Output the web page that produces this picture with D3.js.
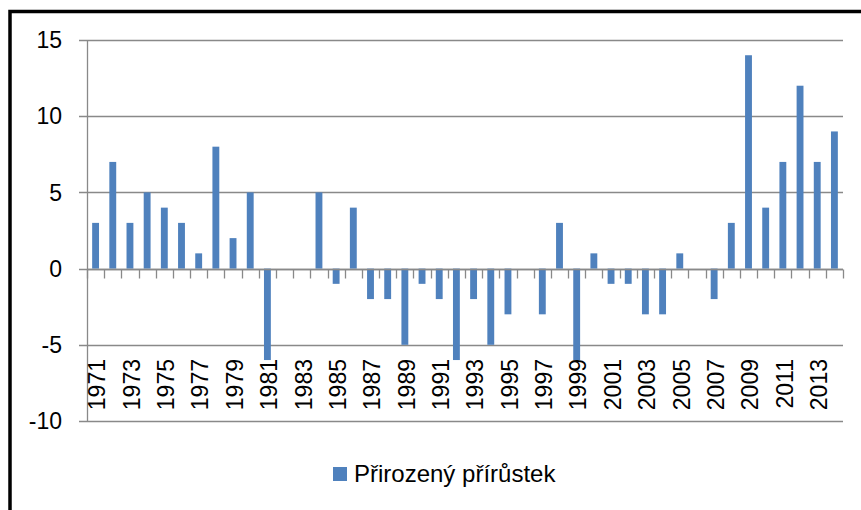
<!DOCTYPE html>
<html>
<head>
<meta charset="utf-8">
<script src="https://cdn.jsdelivr.net/npm/d3@7"></script>
<style>
    body { margin: 0; background: #fff; }
    svg { display: block; font-family: "Liberation Sans", Arial, sans-serif; }
</style>
</head>
<body>
<div id="chart"></div>
<script>
// Data
const years = d3.range(1971, 2015).map(String);
const values = [3, 7, 3, 5, 4, 3, 1, 8, 2, 5, -6, 0, 0, 5, -1, 4, -2, -2, -5, -1,
                -2, -6, -2, -5, -3, 0, -3, 3, -6, 1, -1, -1, -3, -3, 1, 0, -2, 3, 14, 4,
                7, 12, 7, 9];
const yTicks = [-10, -5, 0, 5, 10, 15];
const seriesName = "Přirozený přírůstek";

// Configuration
const config = {
    width: 861,
    height: 510,
    plot: { left: 87, right: 843, top: 40, bottom: 421 },
    barColor: "#4F81BD",
    gridColor: "#898989",
    fontSize: 23
};

const svg = d3.select("#chart")
    .append("svg")
    .attr("width", config.width)
    .attr("height", config.height);

// Outer frame (only left and top edges visible)
svg.append("rect")
    .attr("x", 10)
    .attr("y", 11.5)
    .attr("width", 1000)
    .attr("height", 1000)
    .attr("fill", "none")
    .attr("stroke", "#000")
    .attr("stroke-width", 3.5);

const x = d3.scaleBand()
    .domain(years)
    .range([config.plot.left, config.plot.right])
    .paddingInner(0.6)
    .paddingOuter(0.3);

const y = d3.scaleLinear()
    .domain([-10, 15])
    .range([config.plot.bottom, config.plot.top]);

// Gridlines + y ticks
svg.append("g")
    .selectAll("line")
    .data(yTicks)
    .enter()
    .append("line")
    .attr("x1", config.plot.left - 8)
    .attr("x2", config.plot.right)
    .attr("y1", d => Math.round(y(d)) + 0.5)
    .attr("y2", d => Math.round(y(d)) + 0.5)
    .attr("stroke", config.gridColor)
    .attr("stroke-width", 1.3);

// Y labels
svg.append("g")
    .selectAll("text")
    .data(yTicks)
    .enter()
    .append("text")
    .attr("x", 62)
    .attr("y", d => y(d))
    .attr("dy", "0.36em")
    .attr("text-anchor", "end")
    .style("font-size", config.fontSize + "px")
    .text(d => d);

// Bars
svg.append("g")
    .selectAll("rect")
    .data(values.map((v, i) => ({ year: years[i], value: v })))
    .enter()
    .append("rect")
    .attr("x", d => x(d.year))
    .attr("width", x.bandwidth())
    .attr("y", d => y(Math.max(0, d.value)))
    .attr("height", d => Math.abs(y(d.value) - y(0)))
    .attr("fill", config.barColor);

// Y axis line
svg.append("line")
    .attr("x1", config.plot.left + 0.5)
    .attr("x2", config.plot.left + 0.5)
    .attr("y1", config.plot.top)
    .attr("y2", config.plot.bottom)
    .attr("stroke", config.gridColor)
    .attr("stroke-width", 1.3);

// X axis (zero line) with ticks between categories
const zeroY = Math.round(y(0)) + 0.5;
svg.append("line")
    .attr("x1", config.plot.left)
    .attr("x2", config.plot.right)
    .attr("y1", zeroY)
    .attr("y2", zeroY)
    .attr("stroke", config.gridColor)
    .attr("stroke-width", 1.3);

const offset = (x.step() - x.bandwidth()) / 2;
const boundaries = years.map(d => x(d) - offset).concat([config.plot.right]);
svg.append("g")
    .selectAll("line")
    .data(boundaries)
    .enter()
    .append("line")
    .attr("x1", d => Math.round(d) + 0.5)
    .attr("x2", d => Math.round(d) + 0.5)
    .attr("y1", zeroY)
    .attr("y2", zeroY + 9)
    .attr("stroke", config.gridColor)
    .attr("stroke-width", 1.3);

// Category labels (every second year), rotated
svg.append("g")
    .selectAll("text")
    .data(years.filter((d, i) => i % 2 === 0))
    .enter()
    .append("text")
    .attr("transform", d => `translate(${x(d) + x.bandwidth() / 2 + 1.5},359) rotate(-90)`)
    .attr("dy", "0.36em")
    .attr("text-anchor", "end")
    .style("font-size", config.fontSize + "px")
    .text(d => d);

// Legend
const legend = svg.append("g");
legend.append("rect")
    .attr("x", 333)
    .attr("y", 467)
    .attr("width", 14)
    .attr("height", 14)
    .attr("fill", config.barColor);
legend.append("text")
    .attr("x", 354)
    .attr("y", 482)
    .style("font-size", "24px")
    .text(seriesName);
</script>
</body>
</html>
